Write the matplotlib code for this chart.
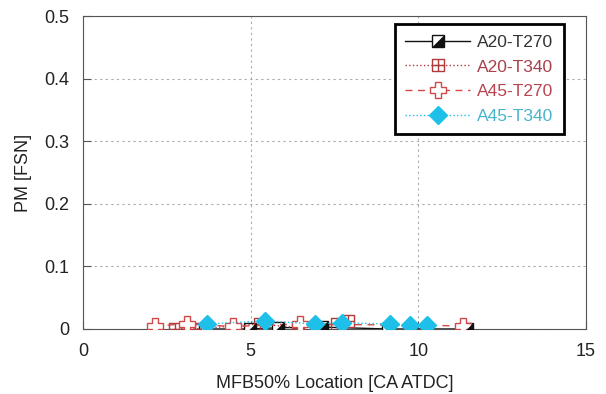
import matplotlib
matplotlib.use("Agg")
import matplotlib.pyplot as plt
from matplotlib.path import Path
from matplotlib.legend_handler import HandlerTuple

plt.rcParams['font.family'] = ['Liberation Sans', 'DejaVu Sans']

a20_t270_x = [3.64, 4.98, 5.82, 7.13, 9.1, 11.45]
a20_t270_y = [0.0, 0.0, 0.002, 0.003, 0.0, 0.0]
a20_t340_x = [2.74, 3.34, 5.28, 6.41, 7.58, 7.9]
a20_t340_y = [0.0, 0.0, 0.008, 0.002, 0.008, 0.012]
a45_t270_x = [2.15, 3.1, 4.47, 6.47, 11.33]
a45_t270_y = [0.005, 0.008, 0.004, 0.008, 0.005]
a45_t340_x = [3.7, 5.43, 6.92, 7.72, 9.16, 9.75, 10.26]
a45_t340_y = [0.008, 0.013, 0.008, 0.01, 0.008, 0.006, 0.006]

labels = ['A20-T270', 'A20-T340', 'A45-T270', 'A45-T340']
c_black = '#111111'
c_brown = '#b03a3a'
c_red = '#d24848'
c_cyan = '#1ec0ea'

tri = Path([(1, -1), (1, 1), (-1, -1), (1, -1)],
           [Path.MOVETO, Path.LINETO, Path.LINETO, Path.CLOSEPOLY])
boxcross = Path([(-1, -1), (1, -1), (1, 1), (-1, 1), (-1, -1),
                 (0, -1), (0, 1), (-1, 0), (1, 0)],
                [Path.MOVETO, Path.LINETO, Path.LINETO, Path.LINETO, Path.LINETO,
                 Path.MOVETO, Path.LINETO, Path.MOVETO, Path.LINETO])

fig = plt.figure(figsize=(6.06, 3.94), dpi=100)
ax = fig.add_axes([0.137, 0.165, 0.830, 0.794])

l1, = ax.plot(a20_t270_x, a20_t270_y, '-', color=c_black, lw=1.0, marker='s',
              ms=8.5, mfc='white', mec=c_black, mew=1.0, zorder=3)
l1b, = ax.plot(a20_t270_x, a20_t270_y, ls='none', marker=tri, ms=8.5,
               mfc=c_black, mec=c_black, mew=0.5, zorder=3.1)
l2, = ax.plot(a20_t340_x, a20_t340_y, ':', color=c_brown, lw=1.0, marker=boxcross,
              ms=8, mfc='none', mec=c_brown, mew=1.0, zorder=3)
l3, = ax.plot(a45_t270_x, a45_t270_y, '--', color=c_red, lw=1.0, marker='P',
              ms=11.5, mfc='white', mec=c_red, mew=1.0, dashes=(5, 4), zorder=3)
l4, = ax.plot(a45_t340_x, a45_t340_y, ':', color=c_cyan, lw=1.0, marker='D',
              ms=9, mfc=c_cyan, mec=c_cyan, zorder=4)

ax.set_xlim(0, 15)
ax.set_ylim(0, 0.5)
ax.set_xticks([0, 5, 10, 15])
ax.set_yticks([0, 0.1, 0.2, 0.3, 0.4, 0.5])
ax.set_yticklabels(['0', '0.1', '0.2', '0.3', '0.4', '0.5'])
ax.tick_params(direction='in', labelsize=13, length=6, color='#555555',
               labelcolor='#222222')
ax.tick_params(axis='y', pad=10)
ax.tick_params(axis='x', pad=10)
ax.grid(True, ls=(0, (2, 3)), color='#aaaaaa', lw=0.8)
for s in ax.spines.values():
    s.set_color('#555555')
ax.set_xlabel('MFB50% Location [CA ATDC]', fontsize=13, color='#222222',
              labelpad=11)
ax.set_ylabel('PM [FSN]', fontsize=13, color='#222222', labelpad=9)

leg = ax.legend([(l1, l1b), l2, l3, l4], labels,
                handler_map={tuple: HandlerTuple(ndivide=1, pad=0)},
                loc='upper right', bbox_to_anchor=(0.956, 0.974),
                borderaxespad=0,
                fancybox=False, framealpha=1, edgecolor='black',
                fontsize=12.5, handlelength=3.75, labelspacing=0.55,
                borderpad=0.6, handletextpad=0.4)
leg.get_frame().set_linewidth(2.0)
for t, c in zip(leg.get_texts(), ['#333333', '#a8404a', '#b84450', '#48b4cc']):
    t.set_color(c)

fig.savefig('out.png', dpi=100)
